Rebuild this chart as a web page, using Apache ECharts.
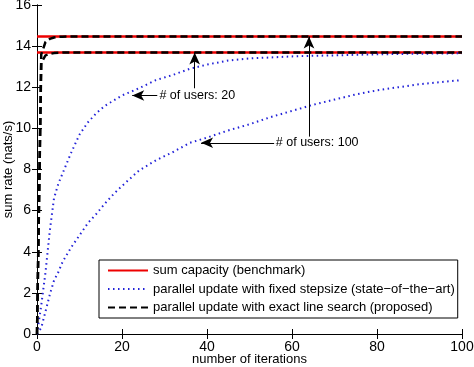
<!DOCTYPE html>
<html><head><meta charset="utf-8">
<script src="https://cdn.jsdelivr.net/npm/echarts@6/dist/echarts.min.js"></script>
<style>html,body{margin:0;padding:0;background:#fff}#c{width:474px;height:367px}</style>
</head><body><div id="c"></div>
<script>
// capacity levels (benchmark)
const capacity20 = 13.69;
const capacity100 = 14.47;
// fixed-stepsize (dotted blue)
const iterFixed = [0,1,2,3,4,5,6,7,8,10,12,14,16,18,20,24,28,32,36,40,45,50,55,60,65,70,75,80,85,90,95,100];
const fixed20  = [0,1.4,3.0,5.0,6.6,7.3,7.8,8.3,8.8,9.7,10.3,10.75,11.1,11.35,11.6,11.95,12.35,12.6,12.9,13.1,13.3,13.4,13.45,13.5,13.53,13.55,13.58,13.6,13.62,13.63,13.64,13.65];
const fixed100 = [0,0.3,1.1,1.9,2.6,3.0,3.5,3.85,4.2,4.8,5.4,5.85,6.35,6.8,7.2,7.95,8.45,8.85,9.3,9.55,9.9,10.2,10.55,10.85,11.15,11.4,11.65,11.85,12.0,12.15,12.25,12.35];
// exact line search (dashed black)
const iterExact = [0,1,2,3,4,5,6,8,10,20,40,60,80,100];
const exact20  = [0,13.2,13.55,13.62,13.66,13.68,13.69,13.69,13.69,13.69,13.69,13.69,13.69,13.69];
const exact100 = [0,13.6,14.2,14.35,14.42,14.45,14.46,14.47,14.47,14.47,14.47,14.47,14.47,14.47];
const capIter = [0,100];
// annotations
const ann20 = {text:'# of users: 20', textAt:[28.8,11.6], hFrom:[28.3,11.6], hTo:[22.4,11.6], vFrom:[37.1,11.95], vTo:[37.1,13.69]};
const ann100 = {text:'# of users: 100', textAt:[56.2,9.3], hFrom:[55.8,9.3], hTo:[38.6,9.3], vFrom:[64.0,9.6], vTo:[64.0,14.47]};

const names = ['sum capacity (benchmark)','parallel update with fixed stepsize (state\u2212of\u2212the\u2212art)','parallel update with exact line search (proposed)'];
const font = 'Liberation Sans, Arial, Helvetica, sans-serif';
const pairs = (xs, ys) => xs.map((x,i)=>[x, ys[i]]);
const redStyle = {color:'#ee0000', width:2.5, type:'solid'};
const blueStyle = {color:'#2222d8', width:2, type:[1.5,3.5]};
const blackStyle = {color:'#000', width:2.5, type:[7,4]};

const chart = echarts.init(document.getElementById('c'), null, {renderer:'canvas'});
const axisCommon = {
  axisLine:{show:true, lineStyle:{color:'#000', width:1}},
  axisTick:{show:true, inside:true, length:5, lineStyle:{color:'#000'}},
  splitLine:{show:false}
};
chart.setOption({
  animation:false,
  backgroundColor:'#fff',
  textStyle:{fontFamily:font},
  grid:{left:37, right:12, top:5, bottom:33, containLabel:false, outerBoundsMode:'none'},
  xAxis:[
    Object.assign({type:'value', min:0, max:100, interval:20, position:'bottom',
      axisLabel:{color:'#000', fontSize:14, margin:6, fontFamily:font},
      name:'number of iterations', nameLocation:'middle', nameGap:19, nameMoveOverlap:false,
      nameTextStyle:{color:'#000', fontSize:13, fontFamily:font}}, axisCommon),
    Object.assign({type:'value', min:0, max:100, interval:20, position:'top', axisLabel:{show:false}}, axisCommon)
  ],
  yAxis:[
    Object.assign({type:'value', min:0, max:16, interval:2, position:'left',
      axisLabel:{color:'#000', fontSize:14, margin:6, fontFamily:font},
      name:'sum rate (nats/s)', nameLocation:'middle', nameGap:22, nameRotate:90, nameMoveOverlap:false,
      nameTextStyle:{color:'#000', fontSize:13, fontFamily:font}}, axisCommon),
    Object.assign({type:'value', min:0, max:16, interval:2, position:'right', axisLabel:{show:false}}, axisCommon)
  ],
  legend:{
    orient:'vertical', left:99, top:260,
    data:names,
    itemWidth:40, itemHeight:14, itemGap:5.5,
    padding:[4,3,4,8],
    borderColor:'#000', borderWidth:1, backgroundColor:'#fff',
    itemStyle:{opacity:0},
    textStyle:{color:'#000', fontSize:13, fontFamily:font},
    selectedMode:false
  },
  series:[
    {name:names[0], type:'line', symbol:'none', data:pairs(capIter,[capacity100,capacity100]), lineStyle:redStyle, itemStyle:{color:'#ee0000'}, z:2,
      markLine:{silent:true, symbol:['none','arrow'], symbolSize:[8,12], label:{show:false},
        lineStyle:{color:'#000', width:1, type:'solid'},
        data:[[{coord:ann20.hFrom},{coord:ann20.hTo}],[{coord:ann20.vFrom},{coord:ann20.vTo}],
              [{coord:ann100.hFrom},{coord:ann100.hTo}],[{coord:ann100.vFrom},{coord:ann100.vTo}]]},
      markPoint:{silent:true, symbol:'circle', symbolSize:0,
        label:{show:true, position:'right', distance:0, color:'#000', fontSize:12.5, fontFamily:font, formatter:'{b}'},
        data:[{name:ann20.text, coord:ann20.textAt},{name:ann100.text, coord:ann100.textAt}]}
    },
    {name:names[0], type:'line', symbol:'none', data:pairs(capIter,[capacity20,capacity20]), lineStyle:redStyle, itemStyle:{color:'#ee0000'}, z:2},
    {name:names[1], type:'line', symbol:'none', data:pairs(iterFixed,fixed20), lineStyle:blueStyle, itemStyle:{color:'#2222d8'}, z:3},
    {name:names[1], type:'line', symbol:'none', data:pairs(iterFixed,fixed100), lineStyle:blueStyle, itemStyle:{color:'#2222d8'}, z:3},
    {name:names[2], type:'line', symbol:'none', data:pairs(iterExact,exact20), lineStyle:blackStyle, itemStyle:{color:'#000'}, z:4},
    {name:names[2], type:'line', symbol:'none', data:pairs(iterExact,exact100), lineStyle:blackStyle, itemStyle:{color:'#000'}, z:4}
  ]
});
</script></body></html>
